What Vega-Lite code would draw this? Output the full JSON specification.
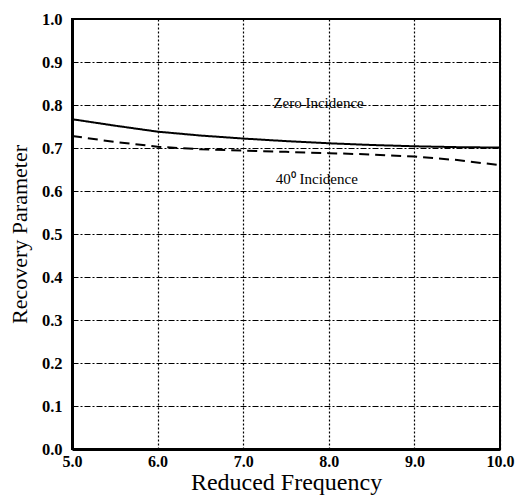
{
  "$schema": "https://vega.github.io/schema/vega-lite/v6.json",
  "width": 428,
  "height": 430,
  "autosize": "none",
  "padding": {"left": 72, "top": 19, "right": 19, "bottom": 53},
  "background": "white",
  "config": {
    "view": {"stroke": "black", "strokeWidth": 2},
    "font": "Liberation Serif"
  },
  "datasets": {
    "curves": [
      {"freq": 5.0, "value": 0.767, "series": "Zero Incidence"},
      {"freq": 5.5, "value": 0.752, "series": "Zero Incidence"},
      {"freq": 6.0, "value": 0.738, "series": "Zero Incidence"},
      {"freq": 6.5, "value": 0.729, "series": "Zero Incidence"},
      {"freq": 7.0, "value": 0.722, "series": "Zero Incidence"},
      {"freq": 7.5, "value": 0.716, "series": "Zero Incidence"},
      {"freq": 8.0, "value": 0.711, "series": "Zero Incidence"},
      {"freq": 8.5, "value": 0.707, "series": "Zero Incidence"},
      {"freq": 9.0, "value": 0.704, "series": "Zero Incidence"},
      {"freq": 9.5, "value": 0.702, "series": "Zero Incidence"},
      {"freq": 10.0, "value": 0.701, "series": "Zero Incidence"},
      {"freq": 5.0, "value": 0.728, "series": "40 Incidence"},
      {"freq": 5.5, "value": 0.714, "series": "40 Incidence"},
      {"freq": 6.0, "value": 0.703, "series": "40 Incidence"},
      {"freq": 6.5, "value": 0.697, "series": "40 Incidence"},
      {"freq": 7.0, "value": 0.694, "series": "40 Incidence"},
      {"freq": 7.5, "value": 0.691, "series": "40 Incidence"},
      {"freq": 8.0, "value": 0.688, "series": "40 Incidence"},
      {"freq": 8.5, "value": 0.685, "series": "40 Incidence"},
      {"freq": 9.0, "value": 0.68, "series": "40 Incidence"},
      {"freq": 9.5, "value": 0.672, "series": "40 Incidence"},
      {"freq": 10.0, "value": 0.66, "series": "40 Incidence"}
    ],
    "labels": [
      {"freq": 7.88, "value": 0.805, "text": "Zero Incidence"},
      {"freq": 7.86, "value": 0.627, "text": "40⁰ Incidence"}
    ]
  },
  "layer": [
    {
      "data": {"name": "curves"},
      "mark": {"type": "line", "color": "black", "strokeWidth": 2},
      "encoding": {
        "x": {
          "field": "freq", "type": "quantitative",
          "scale": {"domain": [5, 10], "nice": false, "zero": false},
          "axis": {
            "title": "Reduced Frequency",
            "titleFont": "Liberation Serif", "titleFontSize": 24, "titleFontWeight": "normal",
            "titleColor": "black", "titlePadding": 1,
            "values": [5, 6, 7, 8, 9, 10],
            "format": ".1f",
            "labelFont": "Liberation Serif", "labelFontSize": 16, "labelFontWeight": "bold",
            "labelColor": "black", "labelPadding": 4, "labelFlush": false,
            "ticks": false,
            "domainColor": "black", "domainWidth": 3,
            "grid": true, "gridColor": "black", "gridDash": [2, 2], "gridWidth": 1.2
          }
        },
        "y": {
          "field": "value", "type": "quantitative",
          "scale": {"domain": [0, 1], "nice": false},
          "axis": {
            "title": "Recovery Parameter",
            "titleFont": "Liberation Serif", "titleFontSize": 22, "titleFontWeight": "normal",
            "titleColor": "black", "titlePadding": 10,
            "values": [0, 0.1, 0.2, 0.3, 0.4, 0.5, 0.6, 0.7, 0.8, 0.9, 1.0],
            "format": ".1f",
            "labelFont": "Liberation Serif", "labelFontSize": 16.5, "labelFontWeight": "bold",
            "labelColor": "black", "labelPadding": 10, "labelFlush": false,
            "ticks": false,
            "domainColor": "black", "domainWidth": 3,
            "grid": true, "gridColor": "black", "gridDash": [6, 2, 2, 2], "gridWidth": 1.2
          }
        },
        "strokeDash": {
          "field": "series", "type": "nominal",
          "scale": {"domain": ["Zero Incidence", "40 Incidence"], "range": [[1, 0], [10, 6]]},
          "legend": null
        },
        "detail": {"field": "series"}
      }
    },
    {
      "data": {"name": "labels"},
      "mark": {"type": "text", "font": "Liberation Serif", "fontSize": 15, "color": "black", "align": "center", "baseline": "middle"},
      "encoding": {
        "x": {"field": "freq", "type": "quantitative"},
        "y": {"field": "value", "type": "quantitative"},
        "text": {"field": "text"}
      }
    }
  ]
}
